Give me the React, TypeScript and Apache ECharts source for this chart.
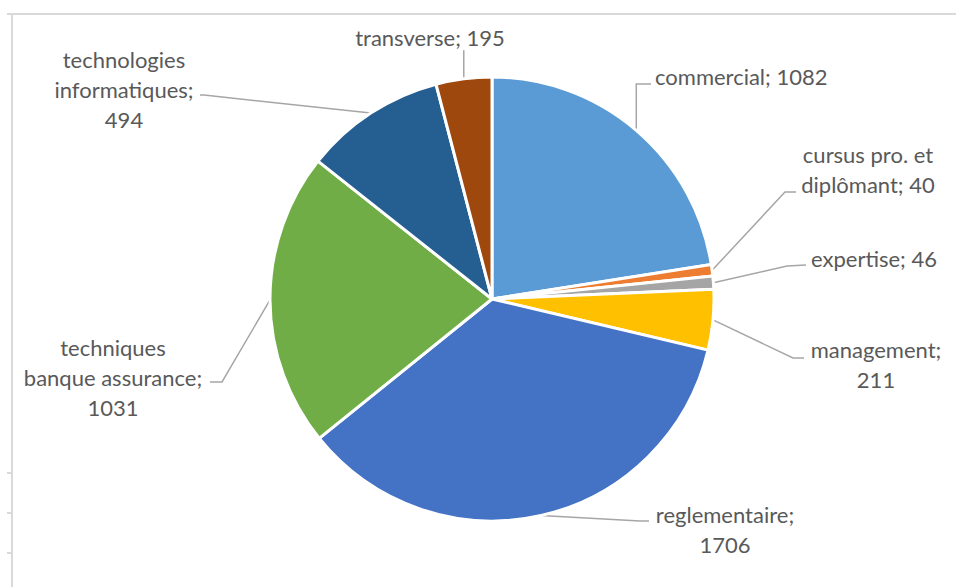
import React, { useEffect, useRef } from "react";
import * as echarts from "echarts";

const categories = [
  "commercial",
  "cursus pro. et diplômant",
  "expertise",
  "management",
  "reglementaire",
  "techniques banque assurance",
  "technologies informatiques",
  "transverse",
];
const values = [1082, 40, 46, 211, 1706, 1031, 494, 195];
// how each label wraps (name lines, and whether the value goes to its own line)
const wrappedNames = [
  "commercial",
  "cursus pro. et\ndiplômant",
  "expertise",
  "management",
  "reglementaire",
  "techniques\nbanque assurance",
  "technologies\ninformatiques",
  "transverse",
];
const valueOnNewLine = [false, false, false, true, true, true, true, false];
const colors = ["#5B9BD5", "#ED7D31", "#A5A5A5", "#FFC000", "#4472C4", "#70AD47", "#255E91", "#9E480E"];

// label placement (text anchor, and leader line elbow / end)
const labelPlacement = [
  { x: 655, y: 76, align: "left", elbow: "vertical", end: [651, 84] },
  { x: 868, y: 169, align: "center", elbow: [785, 192], end: [796, 192] },
  { x: 874, y: 258, align: "center", elbow: [787, 266], end: [806, 265] },
  { x: 876, y: 364, align: "center", elbow: [793, 358], end: [804, 358] },
  { x: 725, y: 529, align: "center", elbow: [640, 521], end: [649, 521] },
  { x: 113, y: 377, align: "center", elbow: [222, 382], end: [210, 382] },
  { x: 124, y: 89, align: "center", elbow: [204, 95], end: [200, 95] },
  { x: 430, y: 37, align: "center", elbow: "vertical", end: [463, 51] },
];

export default function App() {
  const ref = useRef<HTMLDivElement>(null);
  useEffect(() => {
    if (!ref.current) return;
    const chart = echarts.init(ref.current, null, { renderer: "svg" });
    const option: any = {
      animation: false,
      backgroundColor: "#ffffff",
      graphic: [
        { type: "line", shape: { x1: 7, y1: 14, x2: 956, y2: 14 }, style: { stroke: "#D9D9D9", lineWidth: 2 } },
        { type: "line", shape: { x1: 12, y1: 14, x2: 12, y2: 587 }, style: { stroke: "#D9D9D9", lineWidth: 2 } },
        { type: "line", shape: { x1: 7, y1: 473, x2: 12, y2: 473 }, style: { stroke: "#D9D9D9", lineWidth: 2 } },
        { type: "line", shape: { x1: 7, y1: 513, x2: 12, y2: 513 }, style: { stroke: "#D9D9D9", lineWidth: 2 } },
        { type: "line", shape: { x1: 7, y1: 553, x2: 12, y2: 553 }, style: { stroke: "#D9D9D9", lineWidth: 2 } },
      ],
      series: [
        {
          type: "pie",
          center: [492, 299],
          radius: [0, 222],
          startAngle: 90,
          clockwise: true,
          avoidLabelOverlap: false,
          itemStyle: { borderColor: "#ffffff", borderWidth: 3 },
          label: {
            show: true,
            position: "outside",
            color: "#595959",
            fontFamily: "Lato",
            fontSize: 22,
            lineHeight: 30,
            formatter: (p: any) =>
              wrappedNames[p.dataIndex] + ";" + (valueOnNewLine[p.dataIndex] ? "\n" : " ") + p.value,
          },
          labelLine: { show: true, length: 10, length2: 10, lineStyle: { color: "#A6A6A6", width: 1.5 } },
          labelLayout: (params: any) => {
            const pl = labelPlacement[params.dataIndex];
            const pts = params.labelLinePoints;
            const res: any = { x: pl.x, y: pl.y, align: pl.align, verticalAlign: "middle" };
            if (pts && pts.length) {
              const p0 = pts[0];
              const elbow = pl.elbow === "vertical" ? [p0[0], pl.end[1]] : pl.elbow;
              res.labelLinePoints = [p0, elbow, pl.end];
            }
            return res;
          },
          data: categories.map((name, i) => ({ name, value: values[i], itemStyle: { color: colors[i] } })),
        },
      ],
    };
    chart.setOption(option);
    return () => chart.dispose();
  }, []);
  return (
    <div
      ref={ref}
      style={{ position: "absolute", left: 0, top: 0, width: 956, height: 587 }}
    />
  );
}
